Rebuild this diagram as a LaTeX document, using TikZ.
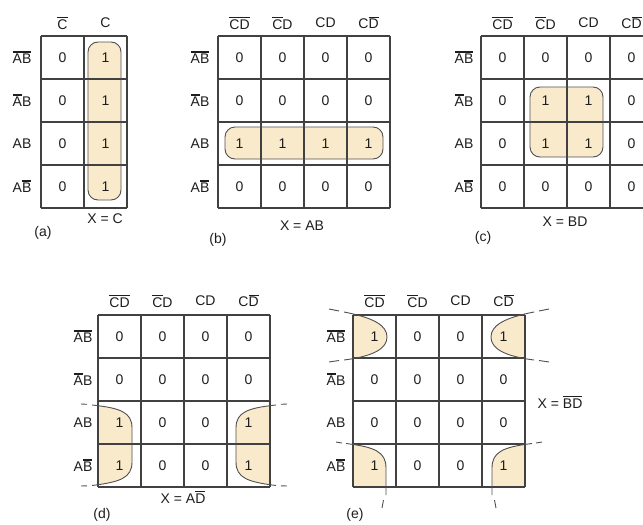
\documentclass[tikz,border=0pt]{standalone}
\usepackage{fontspec}
\setmainfont{Liberation Sans}
\definecolor{beige}{RGB}{250,234,204}
\definecolor{gridc}{RGB}{65,65,65}
\definecolor{loopc}{RGB}{80,80,80}
\definecolor{txtc}{RGB}{30,30,30}
\newcommand\nt[1]{\leavevmode\hbox{\vbox{\hrule height 1.1pt \kern 1.3pt \hbox{#1}}}}
\newcommand\kgrid[4]{% left top cols rows
  \foreach \i in {0,...,#3} \draw[gridline] ({#1+43*\i},#2) -- ({#1+43*\i},{#2+43*#4});
  \foreach \j in {0,...,#4} \draw[gridline] (#1,{#2+43*\j}) -- ({#1+43*#3},{#2+43*\j});
}
\newcommand\kcells[5]{% name left top cols values
  \foreach \v [count=\k from 0] in {#5} {
    \pgfmathtruncatemacro\cc{mod(\k,#4)}
    \pgfmathtruncatemacro\rr{div(\k,#4)}
    \node[lbl] (#1-\rr-\cc) at ({#2+43*\cc+21.5},{#3+43*\rr+21.5}) {\v};
  }}
\newcommand\krows[3]{% name x top
  \node[lbl] (#1-r0) at (#2,{#3+21.5}) {\nt{A}\nt{B}};
  \node[lbl] (#1-r1) at (#2,{#3+64.5}) {\nt{A}B};
  \node[lbl] (#1-r2) at (#2,{#3+107.5}) {AB};
  \node[lbl] (#1-r3) at (#2,{#3+150.5}) {A\nt{B}};
}
\newcommand\kcols[3]{% name left y
  \node[lbl] (#1-c0) at ({#2+21.5},#3) {\nt{C}\nt{D}};
  \node[lbl] (#1-c1) at ({#2+64.5},#3) {\nt{C}D};
  \node[lbl] (#1-c2) at ({#2+107.5},#3) {CD};
  \node[lbl] (#1-c3) at ({#2+150.5},#3) {C\nt{D}};
}
\begin{document}
\begin{tikzpicture}[x=1pt,y=-1pt,
  gridline/.style={draw=gridc, line width=1.2pt},
  loopline/.style={draw=loopc, line width=0.9pt},
  loopfill/.style={fill=beige},
  lbl/.style={font=\fontsize{14}{16}\selectfont, text=txtc, inner sep=0pt, anchor=center}]
\useasboundingbox (0,0) rectangle (643,525);
\fill[white] (0,0) rectangle (643,525);

% ---------- fills ----------
\fill[loopfill, rounded corners=10pt] (88,42) rectangle (121,200);
\fill[loopfill, rounded corners=10pt] (225,127) rectangle (383,159);
\fill[loopfill, rounded corners=10pt] (530,87) rectangle (603,157);
\begin{scope}
  \clip (98,315) rectangle (270,487);
  \fill[loopfill] (95,405.5) .. controls (120,408) and (132,412) .. (132,428) -- (132,462) .. controls (132,478) and (120,482) .. (95,485) -- cycle;
  \fill[loopfill] (273,405.5) .. controls (248,408) and (236,412) .. (236,428) -- (236,462) .. controls (236,478) and (248,482) .. (273,485) -- cycle;
\end{scope}
\begin{scope}
  \clip (353,315) rectangle (525,487);
  \fill[loopfill] (346,312.5) .. controls (375,318) and (387,326) .. (387,337) .. controls (387,348) and (375,356) .. (346,359.5) -- cycle;
  \fill[loopfill] (532,312.5) .. controls (503,318) and (491,326) .. (491,337) .. controls (491,348) and (503,356) .. (532,359.5) -- cycle;
  \fill[loopfill] (346,443.5) .. controls (375,447) and (386,452) .. (386,468) -- (386,494) -- (346,494) -- cycle;
  \fill[loopfill] (532,443.5) .. controls (503,447) and (492,452) .. (492,468) -- (492,494) -- (532,494) -- cycle;
\end{scope}

% ---------- grids ----------
\kgrid{41}{36}{2}{4}
\kgrid{218}{36}{4}{4}
\kgrid{481}{36}{4}{4}
\kgrid{98}{315}{4}{4}
\kgrid{353}{315}{4}{4}

% ---------- loop outlines ----------
\draw[loopline, rounded corners=10pt] (88,42) rectangle (121,200);
\draw[loopline, rounded corners=10pt] (225,127) rectangle (383,159);
\draw[loopline, rounded corners=10pt] (530,87) rectangle (603,157);
% (d)
\draw[loopline] (92,405) .. controls (120,408) and (132,412) .. (132,428) -- (132,462) .. controls (132,478) and (120,482) .. (92,485.5);
\draw[loopline] (276,405) .. controls (248,408) and (236,412) .. (236,428) -- (236,462) .. controls (236,478) and (248,482) .. (276,485.5);
\coordinate (d1a) at (81,404); \coordinate (d1b) at (87,404.3);
\coordinate (d2a) at (81,486); \coordinate (d2b) at (87,485.8);
\coordinate (d3a) at (281,404.3); \coordinate (d3b) at (287,404);
\coordinate (d4a) at (281,485.8); \coordinate (d4b) at (287,486);
\draw[loopline] (d1a) -- (d1b); \draw[loopline] (d2a) -- (d2b);
\draw[loopline] (d3a) -- (d3b); \draw[loopline] (d4a) -- (d4b);
% (e)
\draw[loopline] (344,312) .. controls (375,318) and (387,326) .. (387,337) .. controls (387,348) and (375,356) .. (344,360);
\draw[loopline] (534,312) .. controls (503,318) and (491,326) .. (491,337) .. controls (491,348) and (503,356) .. (534,360);
\draw[loopline] (346,443.5) .. controls (375,447) and (386,452) .. (386,468) -- (386,495);
\draw[loopline] (532,443.5) .. controls (503,447) and (492,452) .. (492,468) -- (492,495);
\coordinate (e1a) at (329,309); \coordinate (e1b) at (339,311);
\coordinate (e2a) at (329,362); \coordinate (e2b) at (339,360.5);
\coordinate (e3a) at (539,311); \coordinate (e3b) at (549,309);
\coordinate (e4a) at (539,360.5); \coordinate (e4b) at (549,362);
\coordinate (e5a) at (336,442); \coordinate (e5b) at (342,443);
\coordinate (e6a) at (536,443); \coordinate (e6b) at (542,442);
\coordinate (e7a) at (383.5,500); \coordinate (e7b) at (382,508);
\coordinate (e8a) at (494.5,500); \coordinate (e8b) at (496,508);
\foreach \p in {e1,e2,e3,e4,e5,e6,e7,e8} \draw[loopline] (\p a) -- (\p b);

% ---------- cell values ----------
\kcells{ma}{41}{36}{2}{0,1,0,1,0,1,0,1}
\kcells{mb}{218}{36}{4}{0,0,0,0,0,0,0,0,1,1,1,1,0,0,0,0}
\kcells{mc}{481}{36}{4}{0,0,0,0,0,1,1,0,0,1,1,0,0,0,0,0}
\kcells{md}{98}{315}{4}{0,0,0,0,0,0,0,0,1,0,0,1,1,0,0,1}
\kcells{me}{353}{315}{4}{1,0,0,1,0,0,0,0,0,0,0,0,1,0,0,1}

% ---------- headers ----------
\node[lbl] (ma-c0) at (62.5,23) {\nt{C}};
\node[lbl] (ma-c1) at (105.5,23) {C};
\krows{ma}{22}{36}
\kcols{mb}{218}{23}
\krows{mb}{200}{36}
\kcols{mc}{481}{23}
\krows{mc}{464}{36}
\kcols{md}{98}{301}
\krows{md}{83}{315}
\kcols{me}{353}{301}
\krows{me}{336}{315}

% ---------- captions ----------
\node[lbl] (xa) at (105,219) {X = C};
\node[lbl] (ta) at (43,233) {(a)};
\node[lbl] (xb) at (302,226) {X = AB};
\node[lbl] (tb) at (218,240) {(b)};
\node[lbl] (xc) at (565,222) {X = BD};
\node[lbl] (tc) at (483,238) {(c)};
\node[lbl] (xd) at (183,497) {X = A\nt{D}};
\node[lbl] (td) at (102,515) {(d)};
\node[lbl] (xe) at (560,402) {X = \nt{B}\nt{D}};
\node[lbl] (te) at (355,515) {(e)};
\end{tikzpicture}
\end{document}
